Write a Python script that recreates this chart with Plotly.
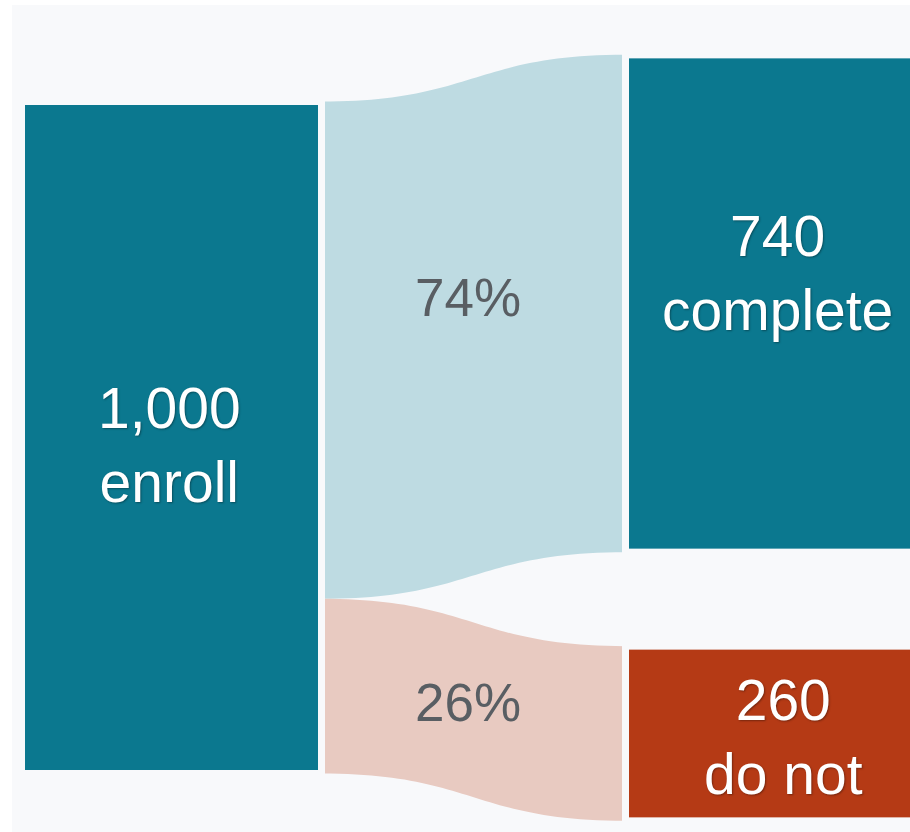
import plotly.graph_objects as go

# data
node_values = [1000, 740, 260]
node_words = ["enroll", "complete", "do not"]
node_colors = ["#0b788f", "#0b788f", "#b53a15"]
link_source = [0, 0]
link_target = [1, 2]
link_values = [740, 260]
link_colors = ["#bedbe2", "#e8cac1"]

W, H = 910, 832
BG = "#f8f9fb"

# sankey geometry (pixels)
dom_top, dom_bot = 54.8, 820.8
node_cx = [171.5, 775.5, 775.5]
node_cy = [437.5, 303.5, 733.5]


def px_x(x):
    return x / W


def px_y(y):
    return 1 - y / H


fig = go.Figure(go.Sankey(
    arrangement="fixed",
    domain=dict(x=[0, 1], y=[px_y(dom_bot), px_y(dom_top)]),
    node=dict(
        label=["", "", ""],
        color=node_colors,
        pad=94,
        thickness=300,
        line=dict(color=BG, width=7),
        x=[px_x(x) for x in node_cx],
        y=[(y - dom_top) / (dom_bot - dom_top) for y in node_cy],
        hoverinfo="skip",
    ),
    link=dict(
        source=link_source,
        target=link_target,
        value=link_values,
        color=link_colors,
        hoverinfo="skip",
    ),
))

# labels
total = node_values[0]
node_text_pos = [(169, 445), (777, 273), (783, 737)]
for v, w, (x, y) in zip(node_values, node_words, node_text_pos):
    fig.add_annotation(x=px_x(x), y=px_y(y), xref="paper", yref="paper",
                       text=f"{v:,}<br>{w}", showarrow=False,
                       xanchor="center", yanchor="middle",
                       font=dict(family="Liberation Sans, Arial", size=57, color="white",
                                 shadow="1px 1px 2px rgba(0,0,0,0.35)"))

pct_pos = [(468, 297), (468, 702)]
for v, (x, y) in zip(link_values, pct_pos):
    fig.add_annotation(x=px_x(x), y=px_y(y), xref="paper", yref="paper",
                       text=f"{round(100 * v / total)}%", showarrow=False,
                       xanchor="center", yanchor="middle",
                       font=dict(family="Liberation Sans, Arial", size=53, color="#595e63"))

fig.add_shape(type="rect", xref="paper", yref="paper",
              x0=px_x(12), x1=1, y0=0, y1=px_y(5),
              fillcolor=BG, line_width=0, layer="below")

fig.update_layout(width=W, height=H,
                  margin=dict(l=0, r=0, t=0, b=0),
                  paper_bgcolor="white",
                  showlegend=False)

# drop the default page margin so the figure sits at the window corner
fig.write_html("out.html", config={"displayModeBar": False},
               post_script="document.body.style.margin='0';")
